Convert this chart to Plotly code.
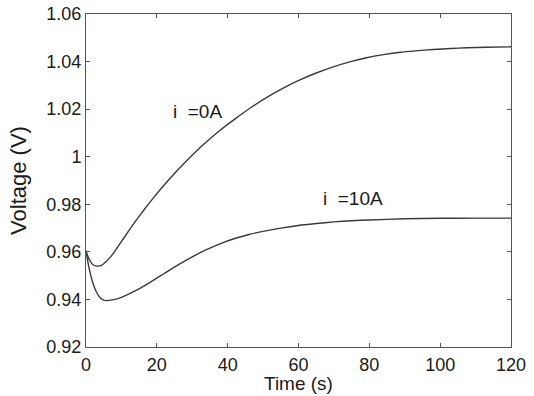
import plotly.graph_objects as go

# Time (s) and voltage (V) for i = 0 A
t_0A = [0, 0.5, 1, 1.5, 2, 2.7, 3.4, 4.2, 5, 7, 9.4, 12, 14, 16.4, 18.8, 23.5, 28.2, 33,
        37.6, 42, 47.1, 52, 56.5, 60.4, 65, 69.8, 75, 79.2, 84, 88.7, 93, 98.1, 103,
        107.5, 113, 120]
v_0A = [0.9605, 0.9583, 0.9566, 0.9554, 0.9546, 0.9541, 0.9540, 0.9542, 0.9550, 0.9580,
        0.9630, 0.9687, 0.9729, 0.9777, 0.9823, 0.9905, 0.9980, 1.0049, 1.0108, 1.0158,
        1.0212, 1.0258, 1.0295, 1.0323, 1.0352, 1.0378, 1.0401, 1.0416, 1.0429, 1.0439,
        1.0445, 1.0451, 1.0455, 1.0458, 1.0460, 1.0462]

# Time (s) and voltage (V) for i = 10 A
t_10A = [0, 0.5, 1, 1.5, 2, 3, 4, 5, 5.6, 6.5, 7.5, 10, 14, 18, 22, 26, 30, 34, 38, 42,
         46, 50, 55, 60, 65, 70, 75, 80, 90, 100, 110, 120]
v_10A = [0.9605, 0.9560, 0.9523, 0.9492, 0.9466, 0.9429, 0.9407, 0.9397, 0.9395, 0.9396,
         0.9398, 0.9409, 0.9437, 0.9471, 0.9508, 0.9545, 0.9579, 0.9609, 0.9635, 0.9656,
         0.9673, 0.9686, 0.9700, 0.9711, 0.9719, 0.9726, 0.9731, 0.9734, 0.9739, 0.9741,
         0.9742, 0.9742]

x_ticks = [0, 20, 40, 60, 80, 100, 120]
y_ticks = [0.92, 0.94, 0.96, 0.98, 1.00, 1.02, 1.04, 1.06]
y_tick_text = ["0.92", "0.94", "0.96", "0.98", "1", "1.02", "1.04", "1.06"]

labels = ["i\u00a0 =0A", "i\u00a0 =10A"]
label_x = [31.5, 75.4]
label_y = [1.0192, 0.9826]

x_title = "Time (s)"
y_title = "Voltage (V)"

font_family = "Liberation Sans, Arial, sans-serif"
line_color = "#3a3a3a"
axis_color = "#555555"

fig = go.Figure()
for tt, vv in ((t_0A, v_0A), (t_10A, v_10A)):
    fig.add_trace(go.Scatter(x=tt, y=vv, mode="lines",
                             line=dict(color=line_color, width=1.4, shape="spline", smoothing=0.6),
                             showlegend=False, hoverinfo="skip"))

for txt, xv, yv in zip(labels, label_x, label_y):
    fig.add_annotation(x=xv, y=yv, xref="x", yref="y", text=txt, showarrow=False,
                       font=dict(family=font_family, size=19, color="#1a1a1a"))

# x-axis title placed as bottom-anchored paper annotation
fig.add_annotation(x=0.5, y=-49 / 333, xref="paper", yref="paper", text=x_title,
                   showarrow=False, xanchor="center", yanchor="bottom",
                   font=dict(family=font_family, size=19, color="#1a1a1a"))

fig.update_layout(
    width=534, height=396,
    margin=dict(l=86, r=23, t=14, b=49, autoexpand=False),
    paper_bgcolor="white", plot_bgcolor="white",
    font=dict(family=font_family, size=18, color="#1a1a1a"),
)
fig.update_xaxes(
    range=[0, 120], tickvals=x_ticks, ticks="inside", ticklen=4, tickcolor=axis_color,
    showline=True, linecolor=axis_color, linewidth=1, mirror="ticks", showgrid=False,
    zeroline=False, automargin=False, ticklabelstandoff=1,
)
fig.update_yaxes(
    range=[0.92, 1.06], tickvals=y_ticks, ticktext=y_tick_text, ticks="inside", ticklen=4,
    tickcolor=axis_color, showline=True, linecolor=axis_color, linewidth=1, mirror="ticks",
    showgrid=False, zeroline=False, title=dict(text=y_title, standoff=13),
    automargin=False,
)

fig.write_html("out.html", config={"displayModeBar": False},
               post_script="document.body.style.margin='0';document.body.style.padding='0';")
